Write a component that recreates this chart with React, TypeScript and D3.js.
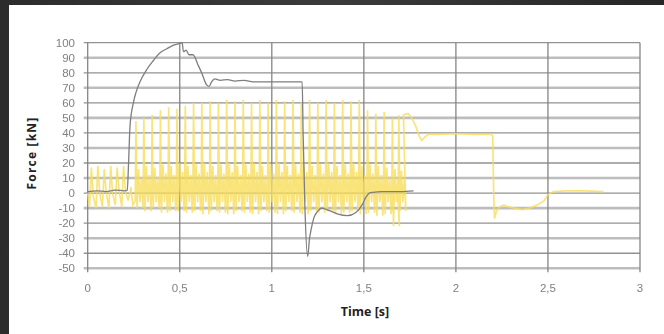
import React, { useEffect, useRef } from "react";
import * as d3 from "d3";

// y ticks (kN) and x ticks (s)
const yTicks = [100, 90, 80, 70, 60, 50, 40, 30, 20, 10, 0, -10, -20, -30, -40, -50];
const xTicks = [0, 0.5, 1, 1.5, 2, 2.5, 3];
const xTickLabels = ["0", "0,5", "1", "1,5", "2", "2,5", "3"];

// gray force trace [time, kN]
const grayTrace: [number, number][] = [
  [0, 1], [0.05, 1.5], [0.1, 1], [0.15, 2], [0.2, 1.5], [0.215, 2],
  [0.222, 20], [0.23, 45], [0.248, 60], [0.265, 68], [0.284, 74], [0.32, 82],
  [0.356, 88], [0.39, 93], [0.43, 96], [0.47, 98.5], [0.5, 99.5], [0.513, 100],
  [0.52, 94], [0.535, 95], [0.55, 92], [0.572, 92], [0.6, 85], [0.619, 80],
  [0.646, 72], [0.66, 71], [0.673, 74], [0.69, 76], [0.72, 75], [0.76, 75.5],
  [0.8, 74.5], [0.85, 75], [0.9, 74], [1.0, 74], [1.1, 74], [1.165, 74],
  [1.17, 40], [1.18, -10], [1.195, -42], [1.205, -30], [1.214, -24], [1.23, -16],
  [1.25, -12], [1.27, -10], [1.3, -11], [1.32, -12], [1.36, -14], [1.41, -15],
  [1.455, -13], [1.49, -8], [1.51, -3], [1.53, 0], [1.55, 0.5], [1.6, 1],
  [1.7, 1], [1.77, 1.5],
];

// yellow trace: small oscillation before the spike train [time, kN]
const yellowPre: [number, number][] = [
  [0, 0], [0.01, -9], [0.02, 17], [0.03, -2], [0.045, -10], [0.055, 18],
  [0.065, 0], [0.08, -9], [0.09, 16], [0.1, 1], [0.115, -10], [0.125, 18],
  [0.135, 0], [0.15, -8], [0.16, 17], [0.17, 2], [0.185, -9], [0.195, 18],
  [0.205, 1], [0.22, -5], [0.235, 4], [0.245, -8],
];

// spike train: spike times, spike peaks, lows, mid bumps
const spikeTimes = [
  0.262, 0.305, 0.35, 0.395, 0.44, 0.485, 0.53, 0.575, 0.62, 0.665, 0.71,
  0.755, 0.8, 0.845, 0.89, 0.935, 0.98, 1.025, 1.07, 1.115, 1.16, 1.205,
  1.25, 1.295, 1.34, 1.385, 1.43, 1.475, 1.52, 1.565, 1.61, 1.655, 1.69,
];
const spikePeaks = [
  48, 50, 52, 55, 57, 56, 58, 60, 60, 61, 60, 62, 61, 62, 60, 62, 60, 62,
  61, 62, 60, 62, 60, 62, 60, 62, 61, 62, 55, 53, 54, 50, 52,
];
const spikeLows = [
  -10, -12, -10, -13, -12, -12, -13, -12, -14, -12, -13, -14, -12, -13, -14,
  -12, -13, -14, -12, -13, -14, -12, -13, -12, -14, -13, -12, -14, -13, -15,
  -14, -22, -12,
];
const spikeBumps = [
  16, 18, 17, 19, 18, 20, 18, 19, 20, 18, 19, 20, 18, 19, 20, 18, 19, 20,
  18, 19, 20, 18, 19, 20, 18, 19, 20, 18, 19, 18, 17, 16, 15,
];

// yellow trace after the spike train [time, kN]
const yellowPost: [number, number][] = [
  [1.715, 52], [1.74, 53], [1.76, 50], [1.78, 45], [1.8, 38], [1.815, 35],
  [1.83, 37], [1.85, 39], [1.9, 39], [2.0, 39.5], [2.1, 39], [2.19, 39],
  [2.2, 38], [2.205, 0], [2.21, -17], [2.22, -12], [2.24, -9], [2.26, -8],
  [2.28, -9], [2.32, -10], [2.36, -11], [2.4, -10], [2.44, -8], [2.48, -5],
  [2.5, -1], [2.53, 1], [2.6, 1.5], [2.7, 1.5], [2.8, 1],
];

const App = () => {
  const chartRef = useRef<SVGSVGElement>(null);

  useEffect(() => {
    drawChart();
  }, []);

  const drawChart = () => {
    const width = 664;
    const height = 334;
    const margin = { top: 42.7, right: 24, bottom: 65.7, left: 87.7 };

    const svg = d3.select(chartRef.current);
    svg.selectAll("*").remove();
    svg.attr("width", width).attr("height", height);

    const defs = svg.append("defs");
    const grad = defs
      .append("linearGradient")
      .attr("id", "bg")
      .attr("x1", "0").attr("x2", "1").attr("y1", "0").attr("y2", "0");
    grad.append("stop").attr("offset", "0%").attr("stop-color", "#2c2c2c");
    grad.append("stop").attr("offset", "50%").attr("stop-color", "#3b3b3b");
    grad.append("stop").attr("offset", "100%").attr("stop-color", "#262626");
    defs
      .append("filter")
      .attr("id", "soft")
      .append("feGaussianBlur")
      .attr("stdDeviation", 0.7);
    defs
      .append("filter")
      .attr("id", "softText")
      .append("feGaussianBlur")
      .attr("stdDeviation", 0.35);

    // photo frame + white panel
    svg.append("rect").attr("width", width).attr("height", height).attr("fill", "url(#bg)");
    svg.append("rect").attr("x", 9).attr("y", 5).attr("width", width - 9).attr("height", height - 5).attr("fill", "#ffffff");

    const x = d3.scaleLinear().domain([0, 3]).range([margin.left, width - margin.right]);
    const y = d3.scaleLinear().domain([-50, 100]).range([height - margin.bottom, margin.top]);

    const g = svg.append("g").attr("filter", "url(#soft)");

    // horizontal gridlines
    g.append("g")
      .selectAll("line")
      .data(yTicks)
      .enter()
      .append("line")
      .attr("x1", x(0) - 4)
      .attr("x2", x(3))
      .attr("y1", (d) => y(d))
      .attr("y2", (d) => y(d))
      .attr("stroke", (d) => (d % 20 === 0 ? "#929292" : "#bdbdbd"))
      .attr("stroke-width", (d) => (d % 20 === 0 ? 1.3 : 2.6));

    // vertical gridlines
    g.append("g")
      .selectAll("line")
      .data(xTicks)
      .enter()
      .append("line")
      .attr("x1", (d) => x(d))
      .attr("x2", (d) => x(d))
      .attr("y1", y(100))
      .attr("y2", y(-50) + 4)
      .attr("stroke", "#858585")
      .attr("stroke-width", 1.3);

    // build the yellow trace from the read-off values
    const yellow: [number, number][] = [...yellowPre];
    spikeTimes.forEach((t, i) => {
      yellow.push([t - 0.004, spikeLows[i] / 2]);
      yellow.push([t, spikePeaks[i]]);
      yellow.push([t + 0.006, spikeLows[i]]);
      yellow.push([t + 0.014, spikeBumps[i]]);
      yellow.push([t + 0.022, -6]);
      yellow.push([t + 0.03, spikeBumps[i] - 6]);
      yellow.push([t + 0.038, spikeLows[i]]);
    });
    yellow.push(...yellowPost);

    const line = d3
      .line<[number, number]>()
      .x((d) => x(d[0]))
      .y((d) => y(d[1]));

    g.append("path")
      .datum(yellow)
      .attr("fill", "none")
      .attr("stroke", "#f7dd5a")
      .attr("stroke-opacity", 0.8)
      .attr("stroke-width", 1.7)
      .attr("d", line);

    g.append("path")
      .datum(grayTrace)
      .attr("fill", "none")
      .attr("stroke", "#7e7e7e")
      .attr("stroke-width", 1.3)
      .attr("d", line.curve(d3.curveMonotoneX));

    // tick labels
    const labels = svg.append("g").attr("filter", "url(#softText)");
    labels
      .append("g")
      .selectAll("text")
      .data(yTicks)
      .enter()
      .append("text")
      .attr("x", 75)
      .attr("y", (d) => y(d))
      .attr("dy", "0.35em")
      .attr("text-anchor", "end")
      .attr("font-family", "Liberation Sans, Arial, sans-serif")
      .attr("font-size", 11.5)
      .attr("fill", "#808080")
      .text((d) => d);

    labels
      .append("g")
      .selectAll("text")
      .data(xTicks)
      .enter()
      .append("text")
      .attr("x", (d) => x(d))
      .attr("y", 292)
      .attr("text-anchor", "middle")
      .attr("font-family", "Liberation Sans, Arial, sans-serif")
      .attr("font-size", 11.5)
      .attr("fill", "#808080")
      .text((d, i) => xTickLabels[i]);

    // axis titles
    svg
      .append("text")
      .attr("x", 365)
      .attr("y", 316)
      .attr("text-anchor", "middle")
      .attr("font-family", "Open Sans, sans-serif")
      .attr("font-weight", "bold")
      .attr("font-size", 12.5)
      .attr("fill", "#222")
      .text("Time [s]");

    svg
      .append("text")
      .attr("transform", `translate(36,153) rotate(-90)`)
      .attr("text-anchor", "middle")
      .attr("font-family", "Open Sans, sans-serif")
      .attr("font-weight", "bold")
      .attr("font-size", 12)
      .attr("letter-spacing", 1.2)
      .attr("fill", "#222")
      .text("Force [kN]");
  };

  return (
    <svg
      ref={chartRef}
      style={{ position: "absolute", left: 0, top: 0, display: "block" }}
    ></svg>
  );
};

export default App;
